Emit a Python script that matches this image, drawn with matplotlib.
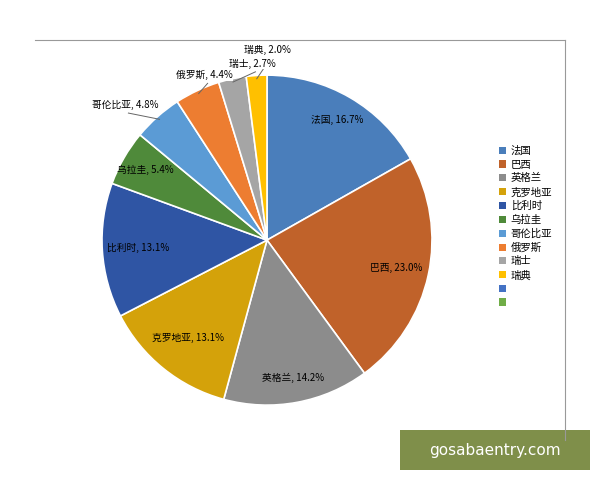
import matplotlib
matplotlib.use("Agg")
import matplotlib.pyplot as plt
import numpy as np
from matplotlib.patches import Rectangle, Patch
from matplotlib.lines import Line2D

plt.rcParams['font.family'] = ['Noto Sans CJK SC', 'DejaVu Sans']

countries = ['法国', '巴西', '英格兰', '克罗地亚', '比利时', '乌拉圭', '哥伦比亚', '俄罗斯', '瑞士', '瑞典']
shares = [16.7, 23.0, 14.2, 13.1, 13.1, 5.4, 4.8, 4.4, 2.7, 2.0]
colors = ['#4a7ebb', '#c0622a', '#8c8c8c', '#d4a20a', '#2f55a4', '#4f8a3a',
          '#5b9bd5', '#ed7d31', '#a5a5a5', '#ffc000']
extra_legend_colors = ['#4472c4', '#70ad47']

fig = plt.figure(figsize=(6, 4.8), dpi=100)
fig.patch.set_facecolor('white')

ax = fig.add_axes([0.17, 0.156, 0.55, 0.6875])
wedges, _ = ax.pie(shares, colors=colors, startangle=90, counterclock=False,
                   wedgeprops=dict(edgecolor='white', linewidth=1.2))
ax.set_aspect('equal')
ax.set_xlim(-1, 1); ax.set_ylim(-1, 1)

inside_r = [0.84, 0.8, 0.85, 0.76, 0.78, 0.85]
outside_pos = {6: (-0.86, 0.82), 7: (-0.38, 1.0), 8: (-0.09, 1.07), 9: (0.0, 1.15)}
for i, (w, name, v) in enumerate(zip(wedges, countries, shares)):
    ang = np.deg2rad((w.theta1 + w.theta2) / 2)
    txt = f'{name}, {v}%'
    if i < 6:
        r = inside_r[i]
        ax.text(r * np.cos(ang), r * np.sin(ang), txt, ha='center', va='center', fontsize=7)
    else:
        tx, ty = outside_pos[i]
        ex, ey = 0.98 * np.cos(ang), 0.98 * np.sin(ang)
        ax.plot([ex, tx + 0.02], [ey, ty - 0.05], color='#666666', lw=0.7, clip_on=False)
        ax.text(tx, ty, txt, ha='center', va='center', fontsize=7,
                bbox=dict(facecolor='white', edgecolor='none', pad=0.5))

# frame lines
fig.add_artist(Line2D([35/600, 565/600], [1-40/480, 1-40/480], color='#999999', lw=0.8))
fig.add_artist(Line2D([565/600, 565/600], [1-40/480, 1-440/480], color='#999999', lw=0.8))

handles = [Patch(facecolor=c, edgecolor='none') for c in colors + extra_legend_colors]
labels = countries + ['', '']
fig.legend(handles, labels, loc='upper left', bbox_to_anchor=(0.825, 0.705), frameon=False,
           fontsize=7.5, handlelength=0.7, handleheight=0.7, handletextpad=0.4,
           labelspacing=0.35, borderaxespad=0)

# watermark box
fig.add_artist(Rectangle((400/600, 1-470/480), 190/600, 40/480, transform=fig.transFigure,
                         facecolor='#7f8f4a', edgecolor='none'))
fig.text(495/600, 1-450/480, 'gosabaentry.com', color='white', fontsize=11,
         ha='center', va='center', family='DejaVu Sans')

fig.savefig('out.png', dpi=100)
